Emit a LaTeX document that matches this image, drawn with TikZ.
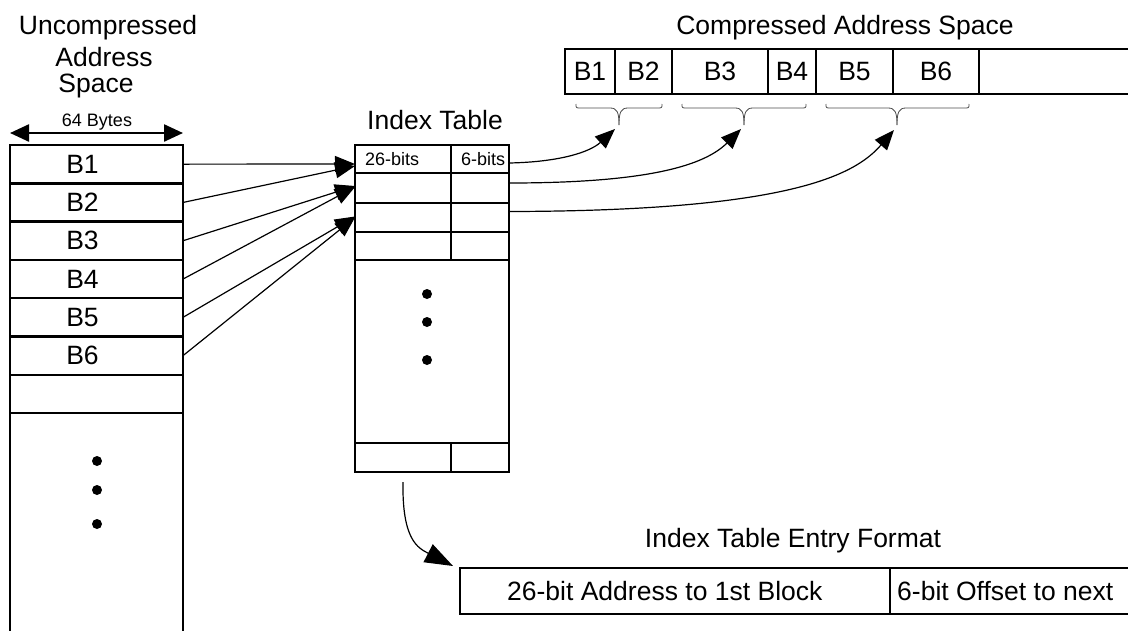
\documentclass[tikz,border=0pt]{standalone}
\usepackage{fontspec}
\setmainfont{Liberation Sans}
\usetikzlibrary{arrows.meta,calc}
\begin{document}
\begin{tikzpicture}[x=1pt,y=-1pt,
  box/.style={draw, line width=2.4pt, inner sep=0pt, outer sep=0pt},
  big/.style={font=\fontsize{26.5}{26.5}\selectfont, inner sep=0pt},
  sml/.style={font=\fontsize{18}{18}\selectfont, inner sep=0pt},
  conn/.style={line width=1.2pt, -{Triangle[length=20pt,width=16pt]}},
  brc/.style={line width=0.8pt, black!70},
  bdot/.style={circle, fill, inner sep=0pt, minimum size=10pt}]
\useasboundingbox (0,0) rectangle (1128,630);

% Uncompressed address space
\node[big] (t1) at (108,28) {Uncompressed};
\node[big] (t2) at (104,57) {Address};
\node[big] (t3) at (96,86) {Space};
\node[sml] (bytes) at (97,122) {64 Bytes};
\coordinate (wl) at (10,133);
\coordinate (wr) at (183,133);
\draw[line width=2.4pt, {Triangle[length=19pt,width=17pt]}-{Triangle[length=19pt,width=17pt]}] (wl) -- (wr);

\foreach \i in {1,...,7}{
  \node[box, minimum width=173pt, minimum height=38.3pt] (u\i) at (96.5,{145+38.3*(\i-0.5)}) {};
}
\foreach \i in {1,...,6}{
  \node[big] at ($(u\i.center)+(-14,0)$) {B\i};
}
\draw[line width=2.4pt] (u7.south west) -- ++(0,240);
\draw[line width=2.4pt] (u7.south east) -- ++(0,240);
\node[bdot] (ud1) at (97,461) {};
\node[bdot] (ud2) at (97,490) {};
\node[bdot] (ud3) at (97,524) {};

% Index table
\node[big] (itl) at (435,120) {Index Table};
\foreach \i/\yy/\hh in {1/159/28, 2/188/30, 3/217.5/29, 4/246/28, 5/457.5/29}{
  \node[box, minimum width=96pt, minimum height=\hh pt] (i\i a) at (403,\yy) {};
  \node[box, minimum width=58pt, minimum height=\hh pt] (i\i b) at (480,\yy) {};
}
\node[box, minimum width=154pt, minimum height=183pt] (ibig) at (432,351.5) {};
\node[sml, anchor=west] at (365,159) {26-bits};
\node[sml, anchor=west] at (461,159) {6-bits};
\node[bdot] (id1) at (427,294) {};
\node[bdot] (id2) at (427,322) {};
\node[bdot] (id3) at (427,360) {};

% arrows from uncompressed to index table
\draw[conn] (u1.east) -- ([yshift=-5pt]i1a.west);
\draw[conn] (u2.east) -- ([yshift=-7pt]i1a.west);
\draw[conn] (u3.east) -- ([yshift=2pt]i2a.west);
\draw[conn] (u4.east) -- ([yshift=1pt]i2a.west);
\draw[conn] (u5.east) -- ([yshift=1pt]i3a.west);
\draw[conn] (u6.east) -- ([yshift=0pt]i3a.west);

% Compressed address space
\node[big] (ctl) at (845,28) {Compressed Address Space};
\foreach \n/\xa/\xb/\t in {1/565/615/B1, 2/615/672/B2, 3/672/768/B3, 4/768/816/B4, 5/816/893/B5, 6/893/979/B6, 7/979/1134/{}}{
  \node[box, big, minimum width={(\xb-\xa)*1pt}, minimum height=45pt] (c\n) at ({(\xa+\xb)/2},71.5) {\t};
}

% braces
\foreach \xa/\xm/\xb in {576/619/662, 682/744/806, 826/897/969}{
  \draw[brc] (\xa,104) .. controls (\xa,108) .. (\xa+5,108) -- (\xm-9,108) .. controls (\xm-2,108) and (\xm,112) .. (\xm,125);
  \draw[brc] (\xb,104) .. controls (\xb,108) .. (\xb-5,108) -- (\xm+9,108) .. controls (\xm+2,108) and (\xm,112) .. (\xm,125);
}
\coordinate (a1) at (615,129);
\coordinate (a2) at (741,129);
\coordinate (a3) at (894,130);
\draw[conn] ([yshift=-4pt]i1b.east) .. controls (560,162) and (590,152) .. (a1);
\draw[conn] ([yshift=5pt]i2b.east) .. controls (650,183) and (705,165) .. (a2);
\draw[conn] ([yshift=6pt]i3b.east) .. controls (790,211) and (855,175) .. (a3);

% Index table entry format
\node[big] (etl) at (793,541) {Index Table Entry Format};
\node[box, minimum width=430pt, minimum height=46pt] (e1) at (675,591) {};
\node[big, anchor=west] at (507,591) {26-bit Address to 1st Block};
\node[box, minimum width=244pt, minimum height=46pt] (e2) at (1012,591) {};
\node[big, anchor=west] at (897,591) {6-bit Offset to next};
\coordinate (ea) at (453,566);
\draw[line width=1.2pt, -{Triangle[length=28pt,width=20pt]}] ([yshift=-10pt]i5a.south) .. controls (402,540) and (418,548) .. (ea);
\end{tikzpicture}
\end{document}
